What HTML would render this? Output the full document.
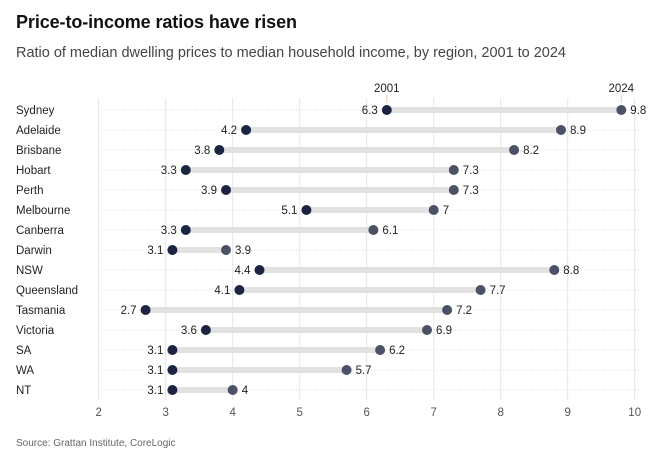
<!DOCTYPE html>
<html><head><meta charset="utf-8"><style>
body{margin:0;background:#fff;font-family:"Liberation Sans",sans-serif;}
svg text{font-family:"Liberation Sans",sans-serif;}
</style></head><body>
<svg id="chart" width="670" height="454" viewBox="0 0 670 454">
<text x="16" y="28" font-size="18" font-weight="bold" fill="#111" textLength="281">Price-to-income ratios have risen</text>
<text x="16" y="57" font-size="14.5" fill="#444" textLength="550">Ratio of median dwelling prices to median household income, by region, 2001 to 2024</text>
<text x="16" y="446" font-size="10" fill="#666">Source: Grattan Institute, CoreLogic</text>
<g id="grid"></g><g id="marks"></g>
</svg>
<script>
const regions=["Sydney","Adelaide","Brisbane","Hobart","Perth","Melbourne","Canberra","Darwin","NSW","Queensland","Tasmania","Victoria","SA","WA","NT"];
const v2001=[6.3,4.2,3.8,3.3,3.9,5.1,3.3,3.1,4.4,4.1,2.7,3.6,3.1,3.1,3.1];
const v2024=[9.8,8.9,8.2,7.3,7.3,7,6.1,3.9,8.8,7.7,7.2,6.9,6.2,5.7,4];
const ticks=[2,3,4,5,6,7,8,9,10];
const NS="http://www.w3.org/2000/svg";
const x=v=>98.7+(v-2)*67;
const y=i=>110+i*20;
const grid=document.getElementById('grid'),marks=document.getElementById('marks');
function mk(tag,attrs,parent,txt){const e=document.createElementNS(NS,tag);for(const k in attrs)e.setAttribute(k,attrs[k]);if(txt!==undefined)e.textContent=txt;parent.appendChild(e);return e;}
ticks.forEach(t=>{
 const l=mk('line',{x1:x(t),x2:x(t),y1:98,y2:400,stroke:'#e6e6e6','stroke-width':1},grid);
 
 
 const tx=mk('text',{x:x(t),y:416,'font-size':11.5,fill:'#555','text-anchor':'middle'},grid,String(t));
 
 
});
regions.forEach((r,i)=>{
 const g=mk('line',{x1:98,x2:640,y1:y(i),y2:y(i),stroke:'#ddd','stroke-dasharray':'1,2'},grid);
 
 
 const lb=mk('text',{x:16,y:y(i)+4,'font-size':11.5,fill:'#222'},marks,r);
 
 
 const bar=mk('line',{x1:x(v2001[i]),x2:x(v2024[i]),y1:y(i),y2:y(i),stroke:'#e2e2e2','stroke-width':6},marks);
 
 
 const d1=mk('circle',{cx:x(v2001[i]),cy:y(i),r:5,fill:'#1b2542'},marks);
 
 
 const d2=mk('circle',{cx:x(v2024[i]),cy:y(i),r:5,fill:'#4b5266'},marks);
 
 
 const t1=mk('text',{x:x(v2001[i])-9,y:y(i)+4,'font-size':11.5,fill:'#222','text-anchor':'end'},marks,String(v2001[i]));
 
 
 const t2=mk('text',{x:x(v2024[i])+9,y:y(i)+4,'font-size':11.5,fill:'#222'},marks,String(v2024[i]));
 
 
});
const a1=mk('text',{x:x(v2001[0]),y:92,'font-size':11.5,fill:'#222','text-anchor':'middle'},marks,'2001');


const a2=mk('text',{x:x(v2024[0]),y:92,'font-size':11.5,fill:'#222','text-anchor':'middle'},marks,'2024');


[v2001[0],v2024[0]].forEach(v=>{const l=mk('line',{x1:x(v),x2:x(v),y1:95,y2:103,stroke:'#f5c9a0'},marks);

});
</script>
</body></html>
